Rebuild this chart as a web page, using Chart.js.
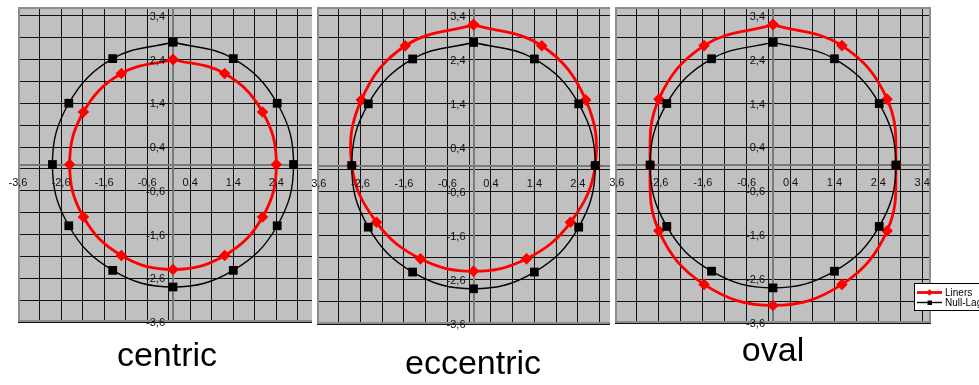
<!DOCTYPE html>
<html>
<head>
<meta charset="utf-8">
<script src="https://cdn.jsdelivr.net/npm/chart.js@4/dist/chart.umd.min.js"></script>
<style>
  html, body { margin: 0; padding: 0; background: #fff; }
  body { position: relative; width: 979px; height: 385px; overflow: hidden; }
  .panel { position: absolute; top: 0; height: 385px; overflow: hidden; background: #fff; }
  .panel canvas { position: absolute; top: 0; }
  .cap { position: absolute; width: 300px; text-align: center; font-family: "Liberation Sans", Arial, sans-serif;
         font-size: 34px; line-height: 34px; color: #000; white-space: nowrap; z-index: 10; }
</style>
</head>
<body>
<div class="panel" id="p1" style="left:0px;width:312px"><canvas id="c1" width="390" height="385"></canvas></div>
<div class="panel" id="p2" style="left:312px;width:298px"><canvas id="c2" width="390" height="385"></canvas></div>
<div class="panel" id="p3" style="left:610px;width:369px"><canvas id="c3" width="390" height="385"></canvas></div>
<div class="cap" style="left:17px;top:337px">centric</div>
<div class="cap" style="left:323px;top:345px">eccentric</div>
<div class="cap" style="left:623px;top:332px">oval</div>

<script>
// Axis ticks (labelled) and grid positions, decimal comma as in the original sheet
const tickValues = [-3.6, -2.6, -1.6, -0.6, 0.4, 1.4, 2.4, 3.4];
const tickLabels = ['-3,6', '-2,6', '-1,6', '-0,6', '0,4', '1,4', '2,4', '3,4'];
const gridValues = [-3.6, -3.1, -2.6, -2.1, -1.6, -1.1, -0.6, -0.1, 0.4, 0.9, 1.4, 1.9, 2.4, 2.9, 3.4];

// Null-Lage: reference contour, identical in all three panels (start and end at the top point)
const nullX = [0, 1.4, 2.42, 2.8, 2.42, 1.4, 0, -1.4, -2.42, -2.8, -2.42, -1.4, 0];
const nullY = [2.8, 2.42, 1.4, 0, -1.4, -2.42, -2.8, -2.42, -1.4, 0, 1.4, 2.42, 2.8];

// Liners: centric case
const centricX = [0, 1.2, 2.08, 2.4, 2.08, 1.2, 0, -1.2, -2.08, -2.4, -2.08, -1.2, 0];
const centricY = [2.4, 2.08, 1.2, 0, -1.2, -2.08, -2.4, -2.08, -1.2, 0, 1.2, 2.08, 2.4];

// Liners: eccentric case
const eccentricX = [0, 1.57, 2.58, 2.8, 2.23, 1.22, 0, -1.22, -2.23, -2.8, -2.58, -1.57, 0];
const eccentricY = [3.2, 2.72, 1.49, 0, -1.29, -2.12, -2.4, -2.12, -1.29, 0, 1.49, 2.72, 3.2];

// Liners: oval case
const ovalX = [0, 1.57, 2.6, 2.8, 2.6, 1.57, 0, -1.57, -2.6, -2.8, -2.6, -1.57, 0];
const ovalY = [3.2, 2.72, 1.5, 0, -1.5, -2.72, -3.2, -2.72, -1.5, 0, 1.5, 2.72, 3.2];

const seriesNames = ['Liners', 'Null-Lage'];

const FONT = '"Liberation Sans", Arial, sans-serif';
const zip = (xs, ys) => xs.map((x, i) => ({ x, y: ys[i] }));

// Excel-style plot: silver background, axes crossing at the origin, labels beside the axes
const excelPlot = {
  id: 'excelPlot',
  beforeDraw(chart) {
    const { ctx, chartArea: a } = chart;
    ctx.save();
    ctx.fillStyle = '#c0c0c0';
    ctx.fillRect(a.left, a.top, a.right - a.left, a.bottom - a.top);
    ctx.restore();
  },
  beforeDatasetsDraw(chart) {
    const { ctx, chartArea: a, scales: { x, y } } = chart;
    const x0 = Math.round(x.getPixelForValue(0));
    const y0 = Math.round(y.getPixelForValue(0));
    ctx.save();
    ctx.strokeStyle = '#7a7a7a';
    ctx.lineWidth = 2;
    ctx.beginPath();
    ctx.moveTo(x0, a.top); ctx.lineTo(x0, a.bottom);
    ctx.moveTo(a.left, y0); ctx.lineTo(a.right, y0);
    ctx.stroke();
    ctx.strokeStyle = '#8c8c8c';
    ctx.strokeRect(a.left + 1, a.top + 1, a.right - a.left - 2, a.bottom - a.top - 2);
    ctx.restore();
  },
  afterDatasetsDraw(chart) {
    const { ctx, scales: { x, y } } = chart;
    const x0 = x.getPixelForValue(0);
    const y0 = y.getPixelForValue(0);
    ctx.save();
    ctx.font = '11px ' + FONT;
    ctx.fillStyle = '#111';
    ctx.textBaseline = 'alphabetic';
    ctx.textAlign = 'center';
    tickValues.forEach((v, i) => {
      ctx.fillText(tickLabels[i], x.getPixelForValue(v), y0 + 21);
    });
    ctx.textAlign = 'right';
    tickValues.forEach((v, i) => {
      ctx.fillText(tickLabels[i], x0 - 8, y.getPixelForValue(v) + 4);
    });
    ctx.restore();
  },
  afterDraw(chart, args, opts) {
    if (!opts.legend) return;
    const { ctx } = chart;
    const bx = opts.legend.x, by = opts.legend.y;
    ctx.save();
    ctx.fillStyle = '#fff';
    ctx.fillRect(bx, by, 120, 28);
    ctx.strokeStyle = '#000';
    ctx.lineWidth = 1;
    ctx.strokeRect(bx + 0.5, by + 0.5, 120, 27);
    ctx.font = '10px ' + FONT;
    ctx.textBaseline = 'middle';
    ctx.textAlign = 'left';
    const rows = [chart.data.datasets.find(d => d.label === seriesNames[0]),
                  chart.data.datasets.find(d => d.label === seriesNames[1])];
    rows.forEach((ds, i) => {
      const ly = by + 9.5 + i * 10;
      ctx.strokeStyle = ds.borderColor;
      ctx.lineWidth = ds.borderWidth;
      ctx.beginPath(); ctx.moveTo(bx + 3, ly); ctx.lineTo(bx + 28, ly); ctx.stroke();
      ctx.fillStyle = ds.pointBackgroundColor;
      ctx.beginPath();
      if (ds.pointStyle === 'rectRot') {
        const cx = bx + 15.5, r = 3.2;
        ctx.moveTo(cx, ly - r); ctx.lineTo(cx + r, ly); ctx.lineTo(cx, ly + r); ctx.lineTo(cx - r, ly);
      } else {
        ctx.rect(bx + 13.5, ly - 2, 4.5, 4.5);
      }
      ctx.fill();
      ctx.fillStyle = '#000';
      ctx.fillText(ds.label, bx + 31, ly + 0.5);
    });
    ctx.restore();
  }
};

function axis(horizontal) {
  return {
    type: 'linear',
    min: -3.6,
    max: 3.6,
    afterBuildTicks(scale) { scale.ticks = gridValues.map(v => ({ value: v })); },
    afterFit(scale) { if (horizontal) scale.height = 0; else scale.width = 0; },
    ticks: { display: false },
    grid: { color: '#111111', lineWidth: 1, drawTicks: false },
    border: { display: false }
  };
}

function makePanel(canvasId, canvasLeft, plot, linerX, linerY, legend) {
  const canvas = document.getElementById(canvasId);
  canvas.style.left = canvasLeft + 'px';
  const W = canvas.width, H = canvas.height;
  return new Chart(canvas, {
    type: 'scatter',
    data: {
      datasets: [
        {
          label: seriesNames[1],
          data: zip(nullX, nullY),
          showLine: true,
          borderColor: '#000000',
          borderWidth: 1.4,
          tension: 0.4,
          pointStyle: 'rect',
          pointRadius: 6.2,
          pointBackgroundColor: '#000000',
          pointBorderWidth: 0,
          order: 0
        },
        {
          label: seriesNames[0],
          data: zip(linerX, linerY),
          showLine: true,
          borderColor: '#ff0000',
          borderWidth: 2.8,
          tension: 0.4,
          pointStyle: 'rectRot',
          pointRadius: 5.8,
          pointBackgroundColor: '#ff0000',
          pointBorderWidth: 0,
          order: 1
        }
      ]
    },
    options: {
      responsive: false,
      animation: false,
      devicePixelRatio: 1,
      layout: {
        padding: { left: 20, top: plot.top, right: W - 20 - plot.w, bottom: H - plot.top - plot.h }
      },
      scales: { x: axis(true), y: axis(false) },
      plugins: {
        legend: { display: false },
        tooltip: { enabled: false },
        excelPlot: { legend }
      }
    },
    plugins: [excelPlot]
  });
}

// canvas left (inside its panel) = plot left - 20 - panel left
makePanel('c1', 18 - 20 - 0,   { top: 7, w: 310, h: 315 }, centricX, centricY, null);
makePanel('c2', 317 - 20 - 312, { top: 7, w: 313, h: 317 }, eccentricX, eccentricY, null);
makePanel('c3', 615 - 20 - 610, { top: 7, w: 316, h: 316 }, ovalX, ovalY, { x: 914 - 595, y: 283 });
</script>
</body>
</html>
